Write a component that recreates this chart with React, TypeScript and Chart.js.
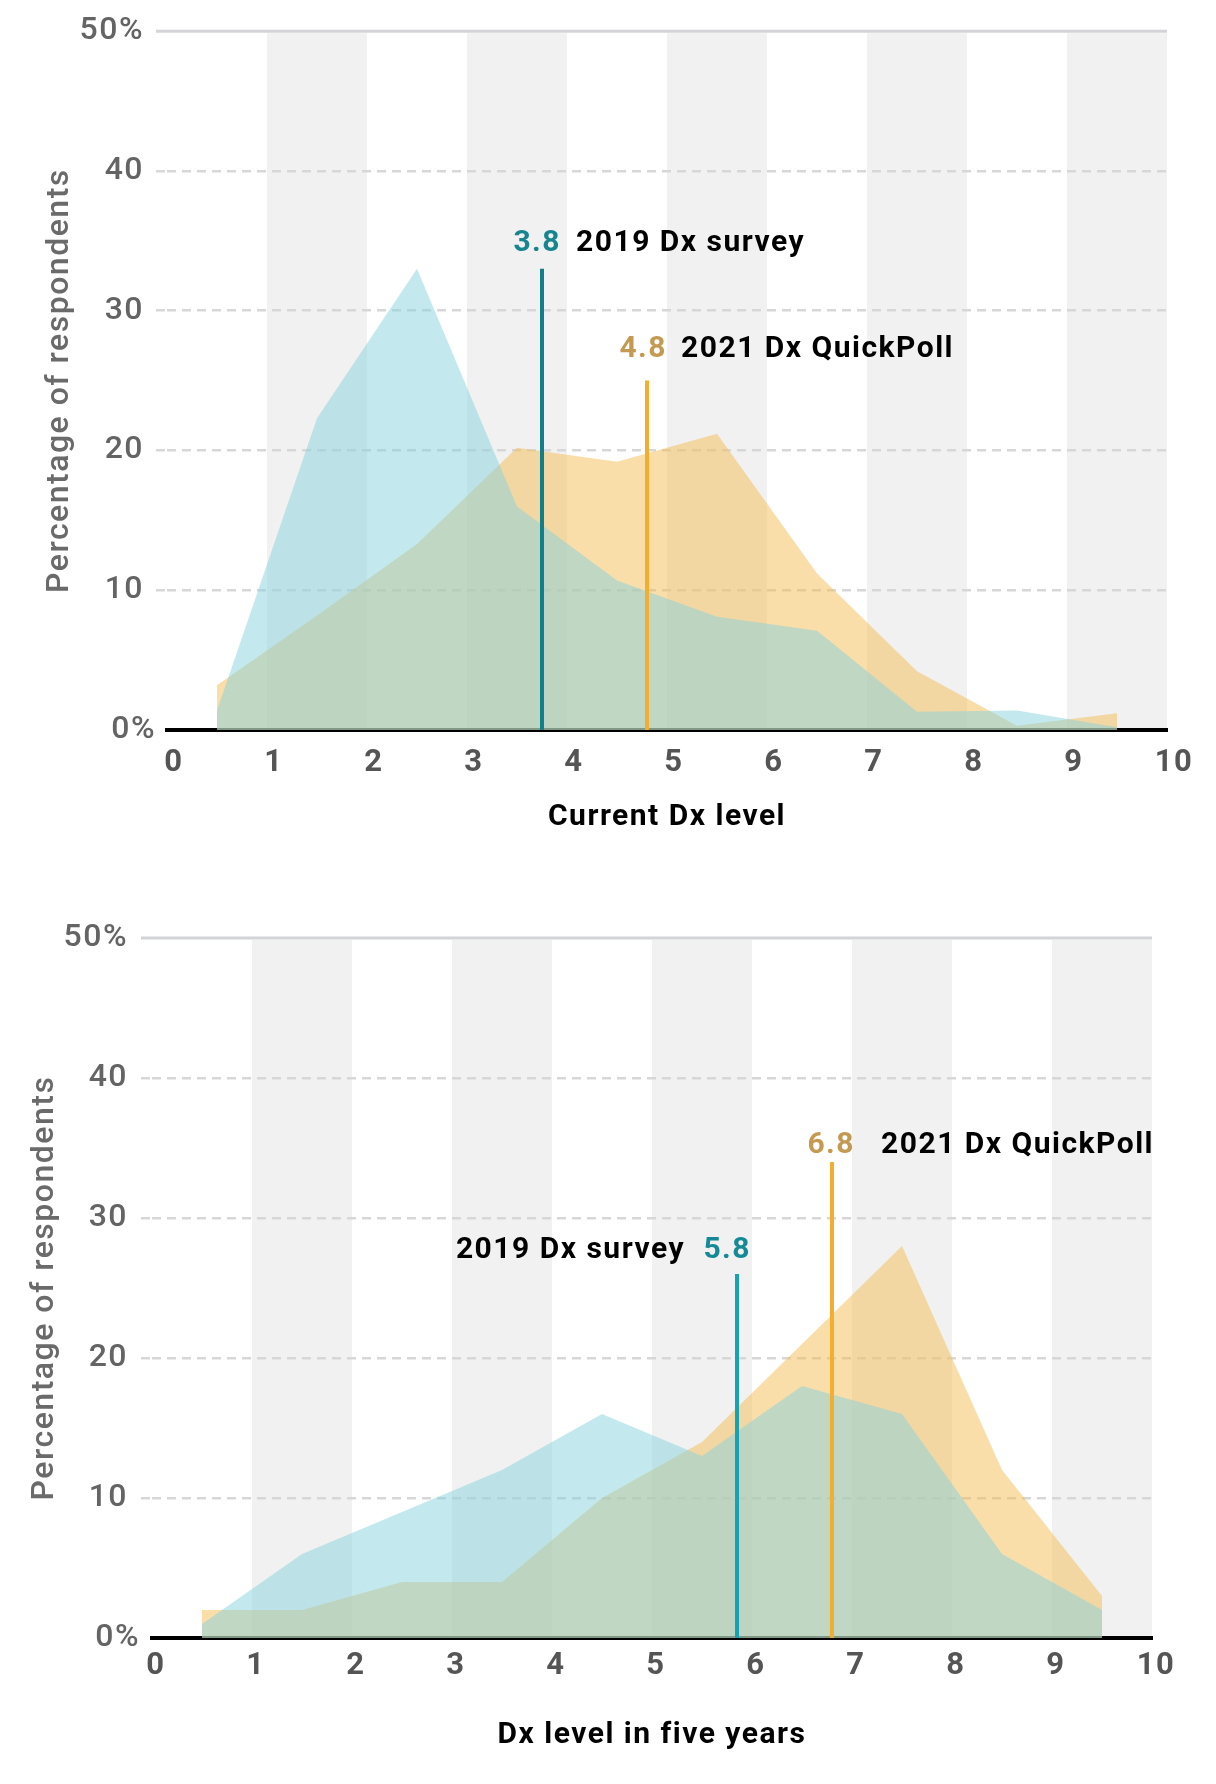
import React, { useEffect, useRef } from 'react';
import { Chart, registerables } from 'chart.js';

Chart.register(...registerables);
Chart.defaults.font.family = 'Roboto';

// ---------- data ----------
const levels = [0.5, 1.5, 2.5, 3.5, 4.5, 5.5, 6.5, 7.5, 8.5, 9.5];

// Current Dx level
const current2019 = [1.4, 22.3, 33.0, 16.0, 10.7, 8.1, 7.1, 1.3, 1.4, 0.2];
const current2021 = [3.2, 8.2, 13.3, 20.2, 19.2, 21.2, 11.2, 4.2, 0.3, 1.2];
const currentMeanPos = [3.75, 4.8];
const currentMeanLabels = ['3.8', '4.8'];
const currentMeanTops = [33, 25];

// Dx level in five years
const future2019 = [1, 6, 9, 12, 16, 13, 18, 16, 6, 2];
const future2021 = [2, 2, 4, 4, 10, 14, 21, 28, 12, 3];
const futureMeanPos = [5.85, 6.8];
const futureMeanLabels = ['5.8', '6.8'];
const futureMeanTops = [26, 34];

const seriesNames = ['2019 Dx survey', '2021 Dx QuickPoll'];
const yTicks = [0, 10, 20, 30, 40, 50];
const yTickLabels = ['0%', '10', '20', '30', '40', '50%'];
const bandStarts = [1, 3, 5, 7, 9];

// ---------- styles ----------
const BLUE_FILL = 'rgba(135,211,221,0.5)';
const ORANGE_FILL = 'rgba(243,189,85,0.5)';
const ORANGE_LINE = '#f3ae2f';
const GOLD_TEXT = '#c49a52';
const TICK_GRAY = '#646464';
const FONT = 'Roboto';
const Y_TICK_SIZE = 32;

type Ann = {
  value: number;
  labelY: number;
  num: string;
  numColor: string;
  numRight: number;
  text: string;
  textX: number;
  textAlign: CanvasTextAlign;
};

type Cfg = {
  s2019: number[];
  s2021: number[];
  meanPos: number[];
  meanTops: number[];
  meanLabels: string[];
  tealLine: string;
  tealText: string;
  xTitle: string;
  padTop: number;
  padRight: number;
  yWidth: number;
  xHeight: number;
  xTickPad: number;
  xLabelOffset: number;
  xTitlePad: number;
  yTitlePad: number;
  yTickPad: number;
  zeroShift: number;
  anns: (c: Cfg) => Ann[];
};

const bandsPlugin = {
  id: 'bands',
  beforeDraw(chart: any) {
    const { ctx, scales } = chart;
    const x = scales.x;
    const y = scales.y;
    (ctx as any).letterSpacing = '1.5px';
    const top = y.getPixelForValue(50);
    const bottom = y.getPixelForValue(0);
    ctx.save();
    ctx.fillStyle = '#f1f1f1';
    bandStarts.forEach((b) => {
      const x0 = x.getPixelForValue(b);
      const x1 = x.getPixelForValue(b + 1);
      ctx.fillRect(x0, top + 2, x1 - x0, bottom - top - 2);
    });
    ctx.strokeStyle = '#d3d4d7';
    ctx.lineWidth = 3;
    ctx.beginPath();
    ctx.moveTo(x.left - 11, top);
    ctx.lineTo(x.right, top);
    ctx.stroke();
    ctx.restore();
  },
};

const annPlugin = {
  id: 'anns',
  afterDraw(chart: any, _args: any, opts: any) {
    const { ctx, scales } = chart;
    const x = scales.x;
    const y = scales.y;
    const anns: Ann[] = opts.items || [];
    ctx.save();
    (ctx as any).letterSpacing = '1.5px';
    // "0%" label, set slightly to the right of the other y tick labels
    ctx.font = `500 ${Y_TICK_SIZE}px ${FONT}`;
    ctx.fillStyle = TICK_GRAY;
    ctx.textAlign = 'right';
    ctx.textBaseline = 'middle';
    ctx.fillText(
      yTickLabels[0],
      y.right - 11 - opts.yTickPad + opts.zeroShift,
      y.getPixelForValue(yTicks[0])
    );
    ctx.font = `bold 30px ${FONT}`;
    anns.forEach((a) => {
      const lx = x.getPixelForValue(a.value);
      const ly = y.getPixelForValue(a.labelY);
      ctx.fillStyle = a.numColor;
      ctx.textAlign = 'right';
      ctx.fillText(a.num, lx + a.numRight, ly);
      ctx.fillStyle = '#000';
      ctx.textAlign = a.textAlign;
      ctx.fillText(a.text, lx + a.textX, ly);
    });
    ctx.restore();
  },
};

function buildChart(canvas: HTMLCanvasElement, p: Cfg) {
  const gridColor = (c: any) =>
    c.tick && (c.tick.value === 0 || c.tick.value === 50) ? 'rgba(0,0,0,0)' : '#d7d7d7';
  return new Chart(canvas, {
    type: 'line',
    data: {
      datasets: [
        {
          label: 'mean ' + seriesNames[0],
          data: [
            { x: p.meanPos[0], y: 0 },
            { x: p.meanPos[0], y: p.meanTops[0] },
          ],
          borderColor: p.tealLine,
          borderWidth: 4,
          pointRadius: 0,
          fill: false,
        },
        {
          label: 'mean ' + seriesNames[1],
          data: [
            { x: p.meanPos[1], y: 0 },
            { x: p.meanPos[1], y: p.meanTops[1] },
          ],
          borderColor: ORANGE_LINE,
          borderWidth: 4,
          pointRadius: 0,
          fill: false,
        },
        {
          label: seriesNames[0],
          data: levels.map((lv, i) => ({ x: lv, y: p.s2019[i] })),
          backgroundColor: BLUE_FILL,
          borderWidth: 0,
          pointRadius: 0,
          fill: 'origin',
        },
        {
          label: seriesNames[1],
          data: levels.map((lv, i) => ({ x: lv, y: p.s2021[i] })),
          backgroundColor: ORANGE_FILL,
          borderWidth: 0,
          pointRadius: 0,
          fill: 'origin',
        },
      ],
    },
    options: {
      responsive: false,
      animation: false,
      events: [],
      layout: { padding: { left: 0, top: p.padTop, right: p.padRight, bottom: 0 } },
      plugins: {
        legend: { display: false },
        tooltip: { enabled: false },
        anns: { items: p.anns(p), yTickPad: p.yTickPad, zeroShift: p.zeroShift },
      } as any,
      scales: {
        x: {
          type: 'linear',
          min: 0,
          max: 10,
          z: 1,
          ticks: {
            stepSize: 1,
            color: '#555555',
            font: { size: 31, weight: 'bold' },
            padding: p.xTickPad,
            labelOffset: p.xLabelOffset,
            maxRotation: 0,
          },
          grid: { display: false, drawTicks: false },
          border: { display: true, color: '#000', width: 4 },
          title: {
            display: true,
            text: p.xTitle,
            color: '#000',
            font: { size: 30, weight: 'bold' },
            padding: { top: 0, bottom: p.xTitlePad },
          },
          afterFit: (s: any) => {
            s.height = p.xHeight;
          },
        },
        y: {
          type: 'linear',
          min: 0,
          max: 50,
          afterBuildTicks: (s: any) => {
            s.ticks = yTicks.map((v) => ({ value: v }));
          },
          ticks: {
            color: (c: any) => (c.tick && c.tick.value === 0 ? 'rgba(0,0,0,0)' : TICK_GRAY),
            font: { size: Y_TICK_SIZE, weight: '500' },
            padding: p.yTickPad,
            callback: (v: any) => {
              const i = yTicks.indexOf(Number(v));
              return i >= 0 ? yTickLabels[i] : '';
            },
          },
          grid: {
            color: gridColor,
            tickColor: gridColor,
            lineWidth: 2.5,
            tickWidth: 2.5,
            tickLength: 11,
            tickBorderDash: [9, 6],
          },
          border: { display: false, dash: [9, 6] },
          title: {
            display: true,
            text: 'Percentage of respondents',
            color: '#6a6a6a',
            font: { size: 32, weight: '500' },
            padding: { top: p.yTitlePad, bottom: 0 },
          },
          afterFit: (s: any) => {
            s.width = p.yWidth;
          },
        },
      },
    } as any,
    plugins: [bandsPlugin, annPlugin],
  });
}

const chart1Cfg: Cfg = {
  s2019: current2019,
  s2021: current2021,
  meanPos: currentMeanPos,
  meanTops: currentMeanTops,
  meanLabels: currentMeanLabels,
  tealLine: '#0f7f8a',
  tealText: '#17858f',
  xTitle: 'Current Dx level',
  padTop: 30,
  padRight: 49,
  yWidth: 167,
  xHeight: 140,
  xTickPad: 15,
  xLabelOffset: 7,
  xTitlePad: 35,
  yTitlePad: 41,
  yTickPad: 12,
  zeroShift: 12,
  anns: (c) => [
    {
      value: c.meanPos[0],
      labelY: 34.8,
      num: c.meanLabels[0],
      numColor: c.tealText,
      numRight: 19,
      text: seriesNames[0],
      textX: 34,
      textAlign: 'left',
    },
    {
      value: c.meanPos[1],
      labelY: 27.2,
      num: c.meanLabels[1],
      numColor: GOLD_TEXT,
      numRight: 20,
      text: seriesNames[1],
      textX: 34,
      textAlign: 'left',
    },
  ],
};

const chart2Cfg: Cfg = {
  s2019: future2019,
  s2021: future2021,
  meanPos: futureMeanPos,
  meanTops: futureMeanTops,
  meanLabels: futureMeanLabels,
  tealLine: '#16a3b1',
  tealText: '#158a96',
  xTitle: 'Dx level in five years',
  padTop: 58,
  padRight: 64,
  yWidth: 152,
  xHeight: 146,
  xTickPad: 10,
  xLabelOffset: 4,
  xTitlePad: 31,
  yTitlePad: 26,
  yTickPad: 13,
  zeroShift: 12,
  anns: (c) => [
    {
      value: c.meanPos[0],
      labelY: 27.7,
      num: c.meanLabels[0],
      numColor: c.tealText,
      numRight: 14,
      text: seriesNames[0],
      textX: -52,
      textAlign: 'right',
    },
    {
      value: c.meanPos[1],
      labelY: 35.2,
      num: c.meanLabels[1],
      numColor: GOLD_TEXT,
      numRight: 23,
      text: seriesNames[1],
      textX: 49,
      textAlign: 'left',
    },
  ],
};

export default function App() {
  const ref1 = useRef<HTMLCanvasElement>(null);
  const ref2 = useRef<HTMLCanvasElement>(null);
  useEffect(() => {
    const c1 = buildChart(ref1.current as HTMLCanvasElement, chart1Cfg);
    const c2 = buildChart(ref2.current as HTMLCanvasElement, chart2Cfg);
    return () => {
      c1.destroy();
      c2.destroy();
    };
  }, []);
  return (
    <div
      style={{
        position: 'absolute',
        left: 0,
        top: 0,
        width: 1216,
        height: 1784,
        background: '#ffffff',
      }}
    >
      <canvas
        ref={ref1}
        width={1216}
        height={870}
        style={{ position: 'absolute', left: 0, top: 0, width: 1216, height: 870 }}
      />
      <canvas
        ref={ref2}
        width={1216}
        height={904}
        style={{ position: 'absolute', left: 0, top: 880, width: 1216, height: 904 }}
      />
    </div>
  );
}
